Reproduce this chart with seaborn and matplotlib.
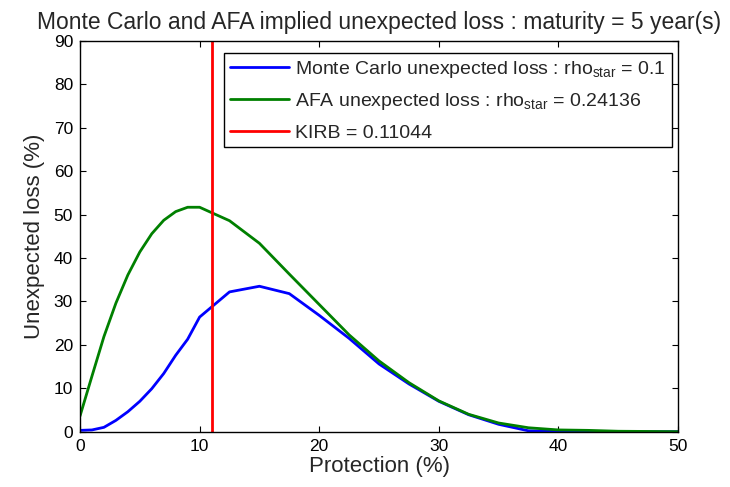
import numpy as np
import pandas as pd
import matplotlib
matplotlib.use("Agg")
import matplotlib.pyplot as plt
import seaborn as sns
from matplotlib.lines import Line2D

protection = [0, 1, 2, 3, 4, 5, 6, 7, 8, 9, 10, 12.5, 15, 17.5, 20, 22.5, 25,
              27.5, 30, 32.5, 35, 37.5, 40, 42.5, 45, 47.5, 50]
mc_ul = [0.3, 0.4, 1.0, 2.6, 4.6, 7.0, 9.9, 13.4, 17.6, 21.3, 26.4, 32.2, 33.5,
         31.8, 26.8, 21.5, 15.6, 11.0, 7.0, 3.9, 1.7, 0.2, 0.05, 0.0, 0.0, 0.0, 0.0]
afa_ul = [3.6, 12.8, 21.9, 29.6, 36.1, 41.4, 45.6, 48.7, 50.7, 51.7, 51.7, 48.6, 43.4,
          36.3, 29.3, 22.3, 16.3, 11.3, 7.1, 4.0, 2.0, 0.9, 0.4, 0.3, 0.1, 0.05, 0.0]
kirb = 11.044

labels = [r"Monte Carlo unexpected loss : rho$_{\mathrm{star}}$ = 0.1",
          r"AFA unexpected loss : rho$_{\mathrm{star}}$ = 0.24136",
          "KIRB = 0.11044"]

sns.set_theme(style="white")
plt.rcParams["font.family"] = ["Liberation Sans", "DejaVu Sans"]
plt.rcParams["mathtext.fontset"] = "custom"
plt.rcParams["mathtext.rm"] = "Liberation Sans"
plt.rcParams["mathtext.it"] = "Liberation Sans:italic"

df = pd.DataFrame({
    "x": protection * 2,
    "y": mc_ul + afa_ul,
    "series": [labels[0]] * len(protection) + [labels[1]] * len(protection),
})

fig = plt.figure(figsize=(7.3, 4.87), dpi=100)
ax = fig.add_axes([0.1096, 0.1136, 0.8192, 0.8022])
sns.lineplot(data=df, x="x", y="y", hue="series",
             palette=["#0000ff", "#008000"], linewidth=2.0, ax=ax, legend=False)
ax.axvline(kirb, color="#ff0000", linewidth=2.0)

handles = [Line2D([], [], color=c, linewidth=2.0) for c in ["#0000ff", "#008000", "#ff0000"]]
leg = ax.legend(handles, labels, loc="upper right", bbox_to_anchor=(0.99, 0.97),
                fontsize=14, frameon=True, fancybox=False, framealpha=1,
                edgecolor="black", handlelength=3.0, handletextpad=0.35,
                borderpad=0.3, labelspacing=0.6, borderaxespad=0.0)
leg.get_frame().set_linewidth(1.0)

ax.set_xlim(0, 50)
ax.set_ylim(0, 90)
ax.set_xticks(range(0, 51, 10))
ax.set_yticks(range(0, 91, 10))
ax.tick_params(direction="in", length=4, width=0.8, top=True, right=True,
               bottom=True, left=True, labelsize=12.5, colors="black", pad=5)
for s in ax.spines.values():
    s.set_visible(True)
    s.set_color("black")
    s.set_linewidth(1.0)
ax.set_xlabel("Protection (%)", fontsize=16, labelpad=2)
ax.set_ylabel("Unexpected loss (%)", fontsize=16, labelpad=6)
ax.set_title("Monte Carlo and AFA implied unexpected loss : maturity = 5 year(s)",
             fontsize=16.5, pad=9)

fig.savefig("out.png", dpi=100)
